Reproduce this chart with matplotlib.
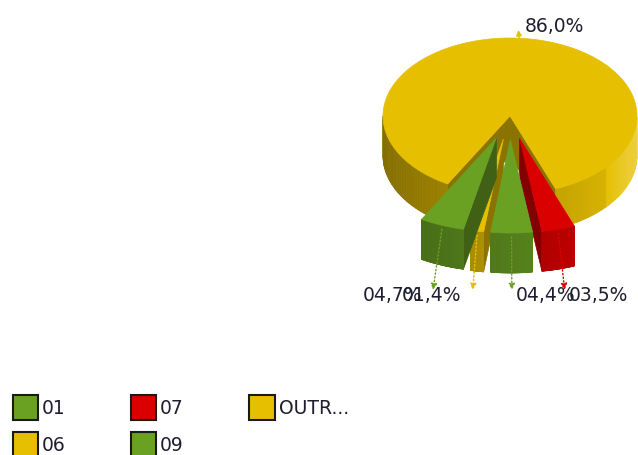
import numpy as np
import matplotlib.pyplot as plt
from matplotlib.patches import Polygon, Patch
from matplotlib.colors import to_rgb

# data
categories = ['01', '06', '07', '09', 'OUTR...']
values = [4.7, 1.4, 3.5, 4.4, 86.0]
labels = ['04,7%', '01,4%', '03,5%', '04,4%', '86,0%']
colors = ['#6aa123', '#e6bf00', '#db0000', '#6aa123', '#e6bf00']
pie_order = ['01', '06', '09', '07', 'OUTR...']   # going round the pie
draw_order = ['OUTR...', '06', '01', '07', '09']  # back to front
exploded = ['01', '06', '09', '07']

plt.rcParams['font.family'] = ['DejaVu Sans']

# geometry, in pixels (y pointing down)
cx, cy = 510, 117
rx, ry = 127, 78
depth = 40
start = 119.4
explode = 0.3     # shift of the pulled-out slices
grow = 1.2        # pulled-out slices come nearer, so look bigger
txt = '#1e1e30'

fig = plt.figure(figsize=(6.38, 4.56), dpi=100)
ax = fig.add_axes([0, 0, 1, 1])
ax.set_xlim(0, 638)
ax.set_ylim(456, 0)
ax.axis('off')


def shade(c, f):
    r, g, b = to_rgb(c)
    if f <= 1:
        return (r * f, g * f, b * f)
    f = f - 1
    return (r + (1 - r) * f, g + (1 - g) * f, b + (1 - b) * f)


def pt(t, ox, oy, s=1.0, dz=0):
    a = np.radians(t)
    return (cx + ox + s * rx * np.cos(a), cy + oy + s * ry * np.sin(a) + dz)


# angles of every slice
spans = {}
t = start
for name in pie_order:
    v = values[categories.index(name)]
    spans[name] = (t - v * 3.6, t)
    t -= v * 3.6

geo = {}
for name in pie_order:
    lo, hi = spans[name]
    mid = (lo + hi) / 2
    if name in exploded:
        ox = explode * rx * np.cos(np.radians(mid))
        oy = explode * ry * np.sin(np.radians(mid))
        s = grow
    else:
        ox, oy, s = 0, 0, 1.0
    geo[name] = (lo, hi, mid, ox, oy, s)

for name in draw_order:
    lo, hi, mid, ox, oy, s = geo[name]
    col = colors[categories.index(name)]
    c0 = (cx + ox, cy + oy)
    # radial walls that face the viewer
    for te, nrm in ((lo, lo - 90), (hi, hi + 90)):
        if np.sin(np.radians(nrm)) <= 0:
            continue
        p = pt(te, ox, oy, s)
        wall = [c0, p, (p[0], p[1] + depth), (c0[0], c0[1] + depth)]
        ax.add_patch(Polygon(wall, closed=True, fc=shade(col, 0.6),
                             ec=shade(col, 0.6), lw=0.5))
    # outer side, lighter towards the right
    ts = np.linspace(lo, hi, 200)
    for a, b in zip(ts[:-1], ts[1:]):
        m = (a + b) / 2
        if np.sin(np.radians(m)) <= 0:
            continue
        cm = np.cos(np.radians(m))
        f = 0.78 + 0.2 * cm
        if cm > 0.75:
            f = 1.0 + 0.25 * (cm - 0.75) / 0.25
        p1, p2 = pt(a, ox, oy, s), pt(b, ox, oy, s)
        quad = [p1, p2, (p2[0], p2[1] + depth), (p1[0], p1[1] + depth)]
        ax.add_patch(Polygon(quad, closed=True, fc=shade(col, f),
                             ec=shade(col, f), lw=0.5))
    # top
    top = [c0] + [pt(x, ox, oy, s) for x in ts]
    ax.add_patch(Polygon(top, closed=True, fc=col, ec=col, lw=0.5))

# labels with leader arrows
for name in pie_order:
    lo, hi, mid, ox, oy, s = geo[name]
    i = categories.index(name)
    col = colors[i]
    cm = np.cos(np.radians(mid))
    if name in exploded:
        p = pt(mid, ox, oy, s, 4)
        e = (p[0] + 25 * cm, 291)
        ax.annotate('', xy=e, xytext=p,
                    arrowprops=dict(arrowstyle='-|>', color=col, lw=1,
                                    linestyle=':', mutation_scale=9,
                                    shrinkA=0, shrinkB=0))
        if cm < 0:
            ax.text(e[0] - 11, 296, labels[i], ha='right', va='center',
                    fontsize=13.5, color=txt)
        else:
            ax.text(e[0] + 4, 296, labels[i], ha='left', va='center',
                    fontsize=13.5, color=txt)
    else:
        p = pt(mid, ox, oy)
        e = (p[0] - 1, 31)
        ax.annotate('', xy=e, xytext=p,
                    arrowprops=dict(arrowstyle='-|>', color=col, lw=1,
                                    mutation_scale=8, shrinkA=0, shrinkB=0))
        ax.text(e[0] + 6, 26, labels[i], ha='left', va='center',
                fontsize=13.5, color=txt)

# legend
handles = [Patch(fc=colors[i], ec='#1a1a1a', lw=1.5, label=categories[i])
           for i in range(len(categories))]
fig.legend(handles=handles, ncol=3, loc='lower left',
           bbox_to_anchor=(0.008, -0.02), frameon=False, fontsize=13.5,
           handlelength=1.35, handleheight=1.65, handletextpad=0.2,
           columnspacing=3.5, labelspacing=0.65, borderaxespad=0,
           labelcolor=txt)

fig.savefig('out.png', dpi=100)
